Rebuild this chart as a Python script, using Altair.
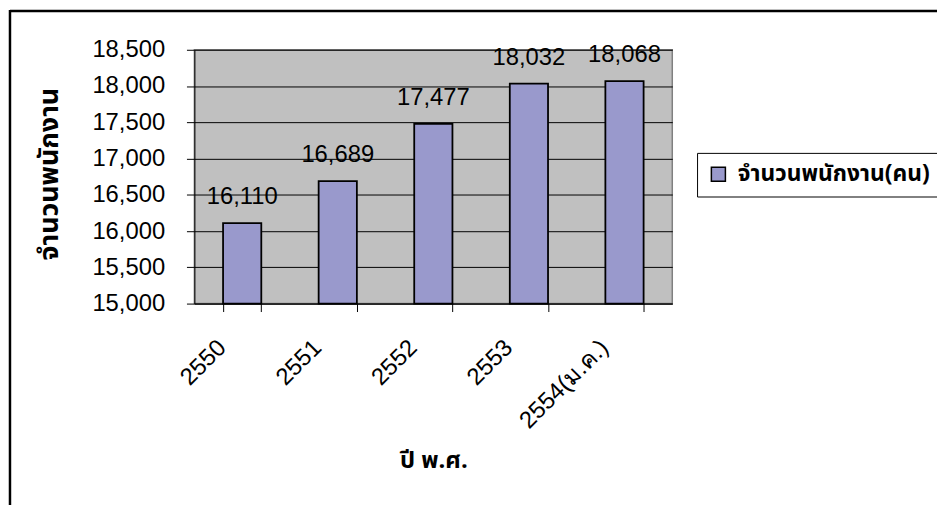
import altair as alt
import pandas as pd

years = ["2550", "2551", "2552", "2553", "2554(ม.ค.)"]
employees = [16110, 16689, 17477, 18032, 18068]
series_name = "จำนวนพนักงาน(คน)"
y_ticks = [15000, 15500, 16000, 16500, 17000, 17500, 18000, 18500]

df = pd.DataFrame({"year": years, "count": employees, "series": [series_name] * len(years)})

LATIN = "Liberation Sans, Arial, sans-serif"
THAI = "Tahoma, Noto Sans Thai, Noto Sans, DejaVu Sans, sans-serif"

x_enc = alt.X(
    "year:N",
    sort=years,
    scale=alt.Scale(paddingInner=0.6, paddingOuter=0.3),
    axis=alt.Axis(
        title="ปี พ.ศ.",
        titleFont=THAI,
        titleFontSize=24,
        titleFontWeight="bold",
        titleColor="black",
        titleY=158,
        titleBaseline="middle",
        labelAngle=-45,
        labelAlign="right",
        labelBaseline="top",
        labelFont=LATIN,
        labelFontSize=24,
        labelColor="black",
        labelPadding=24,
        labelOffset=-29,
        tickBand="extent",
        tickSize=8,
        tickColor="black",
        domainColor="black",
        grid=False,
    ),
)

y_enc = alt.Y(
    "count:Q",
    scale=alt.Scale(domain=[15000, 18500], nice=False, zero=False),
    axis=alt.Axis(
        title="จำนวนพนักงาน",
        titleFont=THAI,
        titleFontSize=27,
        titleFontWeight="bold",
        titleColor="black",
        titleAngle=-90,
        titleX=-146,
        titleY=125,
        titleAlign="center",
        titleBaseline="middle",
        values=y_ticks,
        labelExpr="format(datum.value, ',')",
        labelFont=LATIN,
        labelFontSize=24,
        labelColor="black",
        labelPadding=22,
        tickSize=8,
        tickColor="black",
        domainColor="black",
        grid=True,
        gridColor="black",
        gridWidth=1,
    ),
)

bars = alt.Chart(df).mark_bar(stroke="black", strokeWidth=1.8).encode(
    x=x_enc,
    y=y_enc,
    y2=alt.datum(15000),
    color=alt.Color(
        "series:N",
        scale=alt.Scale(range=["#9999CC"]),
        legend=alt.Legend(
            title=None,
            orient="none",
            legendX=507,
            legendY=104,
            symbolType="square",
            symbolSize=200,
            symbolStrokeColor="black",
            symbolStrokeWidth=1.5,
            symbolFillColor="#9999CC",
            labelFont=THAI,
            labelFontSize=23,
            labelFontWeight="bold",
            labelColor="black",
            labelOffset=8,
            labelLimit=400,
            padding=10,
            strokeColor="black",
            fillColor="white",
        ),
    ),
)

labels = alt.Chart(df).mark_text(
    font=LATIN, fontSize=24, color="black", baseline="alphabetic", dy=-19
).encode(
    x=x_enc,
    y=y_enc,
    text=alt.Text("count:Q", format=","),
)

frame_df = pd.DataFrame({"k": [0]})
top_line = alt.Chart(frame_df).mark_rule(color="black", strokeWidth=2.5).encode(
    x=alt.value(-186), x2=alt.value(760), y=alt.value(-39)
)
left_line = alt.Chart(frame_df).mark_rule(color="black", strokeWidth=2.5).encode(
    x=alt.value(-186), y=alt.value(-40), y2=alt.value(460)
)

chart = (
    alt.layer(bars, labels, top_line, left_line)
    .properties(
        width=482,
        height=256,
        autosize=alt.AutoSizeParams(type="none"),
        padding={"left": 188, "top": 40, "right": 267, "bottom": 201},
    )
    .configure_view(fill="#C0C0C0", stroke="#808080", strokeWidth=1.5)
)

chart.save("out.html", embed_options={"renderer": "svg", "actions": False})
